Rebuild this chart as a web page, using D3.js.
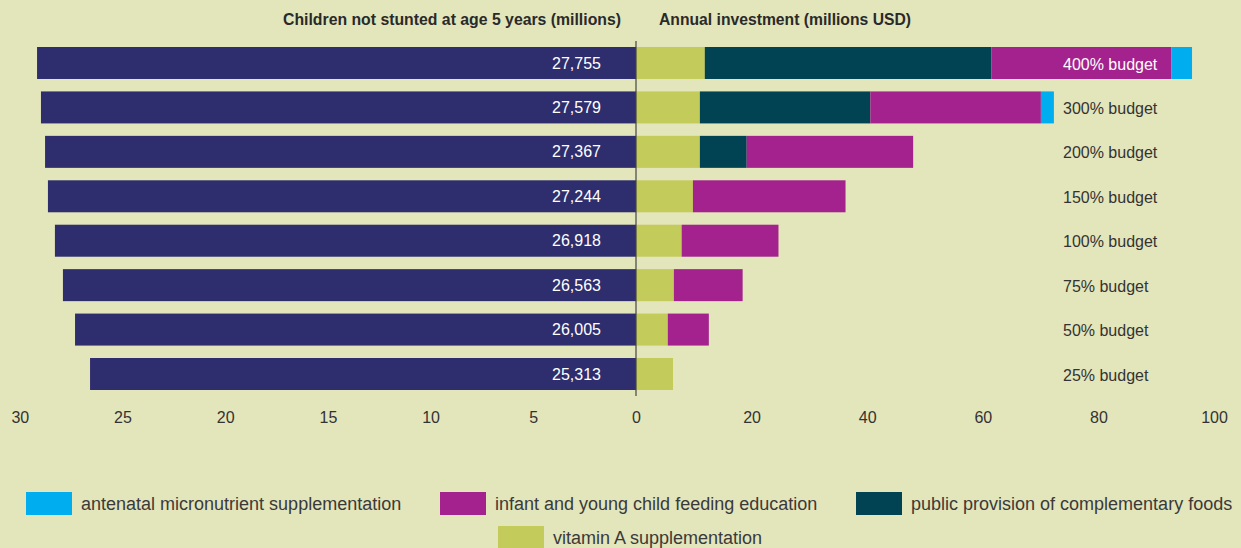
<!DOCTYPE html>
<html>
<head>
<meta charset="utf-8">
<script src="https://cdn.jsdelivr.net/npm/d3@7"></script>
<style>
  body { margin: 0; background: #e3e5bb; }
  svg { display: block; font-family: "Liberation Sans", Arial, sans-serif; }
</style>
</head>
<body>
<div id="chart"></div>
<script>
// Data
var budgets = ["400% budget", "300% budget", "200% budget", "150% budget",
               "100% budget", "75% budget", "50% budget", "25% budget"];
// left bars, in axis units as drawn
var notStunted = [29.16, 28.97, 28.77, 28.63, 28.29, 27.9, 27.31, 26.58];
var notStuntedLabels = ["27,755", "27,579", "27,367", "27,244", "26,918", "26,563", "26,005", "25,313"];
// annual investment by intervention (millions USD)
var vitaminA  = [11.9, 11.05, 11.05, 9.85, 7.9, 6.55, 5.5, 6.4];
var provision = [49.6, 29.5, 8.1, 0, 0, 0, 0, 0];
var feeding   = [31.1, 29.5, 28.8, 26.4, 16.75, 11.9, 7.1, 0];
var antenatal = [3.6, 2.25, 0, 0, 0, 0, 0, 0];
var leftTicks = [30, 25, 20, 15, 10, 5, 0];
var rightTicks = [20, 40, 60, 80, 100]; // 0 is shared with the left axis

var seriesKeys = ["vitaminA", "provision", "feeding", "antenatal"];
var seriesNames = {
  antenatal: "antenatal micronutrient supplementation",
  feeding: "infant and young child feeding education",
  provision: "public provision of complementary foods",
  vitaminA: "vitamin A supplementation"
};
var colors = {
  vitaminA: "#c3cb5a",
  provision: "#024353",
  feeding: "#a3228d",
  antenatal: "#00aeef"
};

var w = 1241, h = 548;
var zeroX = 636;

var svg = d3.select("#chart").append("svg")
    .attr("width", w).attr("height", h);

svg.append("rect").attr("width", w).attr("height", h).attr("fill", "#e3e5bb");

// scales
var xLeft = d3.scaleLinear().domain([0, 30]).range([zeroX, zeroX - 30 * 20.54]);
var xRight = d3.scaleLinear().domain([0, 100]).range([zeroX, 1214]);
var y = d3.scaleBand().domain(budgets).range([47, 390]).paddingInner(0.28);

// table for stacking
var table = budgets.map(function(b, i) {
  return { budget: b, vitaminA: vitaminA[i], provision: provision[i],
           feeding: feeding[i], antenatal: antenatal[i] };
});
var stacked = d3.stack().keys(seriesKeys)(table);

// left bars
svg.append("g").selectAll("rect")
  .data(notStunted)
  .enter().append("rect")
  .attr("x", function(d) { return xLeft(d); })
  .attr("y", function(d, i) { return y(budgets[i]); })
  .attr("width", function(d) { return zeroX - xLeft(d); })
  .attr("height", y.bandwidth())
  .attr("fill", "#2e2d6e");

svg.append("g").selectAll("text")
  .data(notStuntedLabels)
  .enter().append("text")
  .attr("x", 601)
  .attr("y", function(d, i) { return y(budgets[i]) + y.bandwidth() / 2; })
  .attr("dy", "0.35em")
  .attr("text-anchor", "end")
  .attr("fill", "#fff")
  .style("font-size", "16px")
  .text(function(d) { return d; });

// right stacked bars
svg.append("g").selectAll("g")
  .data(stacked)
  .enter().append("g")
  .attr("fill", function(s) { return colors[s.key]; })
  .selectAll("rect")
  .data(function(s) { return s.filter(function(d) { return d[1] > d[0]; }); })
  .enter().append("rect")
  .attr("x", function(d) { return xRight(d[0]); })
  .attr("y", function(d) { return y(d.data.budget); })
  .attr("width", function(d) { return xRight(d[1]) - xRight(d[0]); })
  .attr("height", y.bandwidth());

// budget labels
svg.append("g").selectAll("text")
  .data(budgets)
  .enter().append("text")
  .attr("x", 1063)
  .attr("y", function(d) { return y(d) + y.bandwidth() / 2 + 1; })
  .attr("dy", "0.35em")
  .attr("fill", function(d, i) { return i === 0 ? "#fff" : "#333"; })
  .style("font-size", "16px")
  .text(function(d) { return d; });

// centre line
svg.append("line")
  .attr("x1", zeroX).attr("x2", zeroX)
  .attr("y1", 41).attr("y2", 396)
  .attr("stroke", "#444").attr("stroke-width", 1.2);

// axes (labels only)
var leftAxis = svg.append("g").attr("transform", "translate(0,412)")
  .call(d3.axisBottom(xLeft).tickValues(leftTicks).tickSize(0).tickPadding(0));
var rightAxis = svg.append("g").attr("transform", "translate(0,412)")
  .call(d3.axisBottom(xRight).tickValues(rightTicks).tickSize(0).tickPadding(0));
[leftAxis, rightAxis].forEach(function(a) {
  a.select(".domain").remove();
  a.selectAll("text")
    .attr("fill", "#333")
    .style("font-family", "Liberation Sans, Arial, sans-serif")
    .style("font-size", "16px");
});

// titles
svg.append("text")
  .attr("x", 621).attr("y", 25)
  .attr("text-anchor", "end")
  .attr("fill", "#2a2a2a")
  .style("font-size", "16px").style("font-weight", "bold")
  .attr("textLength", 338).attr("lengthAdjust", "spacingAndGlyphs")
  .text("Children not stunted at age 5 years (millions)");

svg.append("text")
  .attr("x", 659).attr("y", 25)
  .attr("fill", "#2a2a2a")
  .style("font-size", "16px").style("font-weight", "bold")
  .attr("textLength", 252).attr("lengthAdjust", "spacingAndGlyphs")
  .text("Annual investment (millions USD)");

// legend
var legendItems = [
  { key: "antenatal", x: 26, y: 492 },
  { key: "feeding", x: 440, y: 492 },
  { key: "provision", x: 856, y: 492 },
  { key: "vitaminA", x: 498, y: 526 }
];
var leg = svg.append("g").selectAll("g")
  .data(legendItems)
  .enter().append("g")
  .attr("transform", function(d) { return "translate(" + d.x + "," + d.y + ")"; });
leg.append("rect")
  .attr("width", 46).attr("height", 23)
  .attr("fill", function(d) { return colors[d.key]; });
leg.append("text")
  .attr("x", 55).attr("y", 11.5)
  .attr("dy", "0.35em")
  .attr("fill", "#3a3a3a")
  .style("font-size", "18px")
  .text(function(d) { return seriesNames[d.key]; });
</script>
</body>
</html>
